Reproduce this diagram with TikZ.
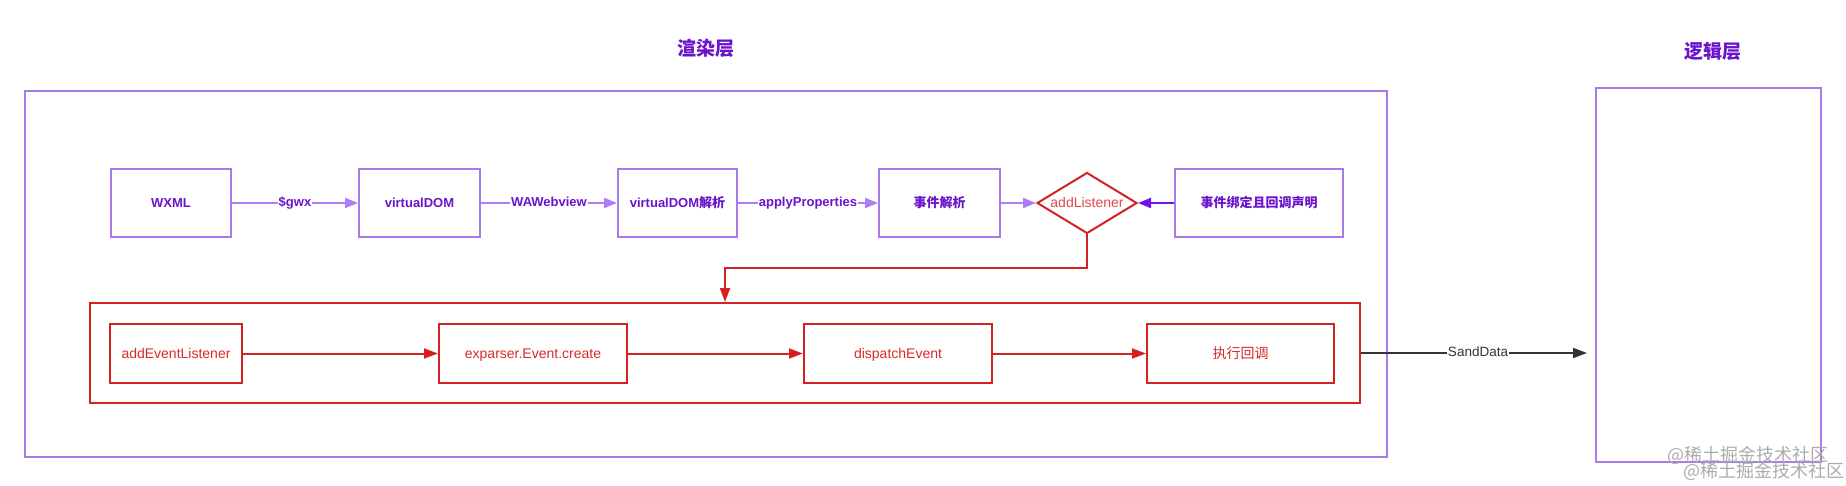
\documentclass[tikz,border=0pt]{standalone}
\usepackage{fontspec}
\setmainfont{Liberation Sans}
\newfontfamily\cjk{Noto Sans CJK SC}
\usetikzlibrary{arrows.meta,shapes.geometric,calc}
\definecolor{pline}{HTML}{A87BEA}
\definecolor{parrow}{HTML}{B07DF5}
\definecolor{pdark}{HTML}{7015E8}
\definecolor{ptext}{HTML}{6A14CC}
\definecolor{rline}{HTML}{D42222}
\definecolor{rtip}{HTML}{E81414}
\definecolor{rtext}{HTML}{D82A2A}
\definecolor{dtext}{HTML}{E04A48}
\definecolor{gline}{HTML}{333333}
\definecolor{wmark}{HTML}{ACACAC}
\tikzset{
  pbox/.style={draw=pline, line width=2pt, fill=white, inner sep=0pt, minimum height=68pt,
    text=ptext, font=\fontsize{13}{15}\selectfont\bfseries, text height=10pt, text depth=1pt},
  rbox/.style={draw=rline, line width=2pt, fill=white, inner sep=0pt, minimum height=59pt,
    text=rtext, font=\fontsize{14}{16}\selectfont, text height=10.5pt, text depth=1pt},
  parr/.style={draw=parrow, line width=2pt, -{Triangle[length=13pt,width=10pt]}},
  rarr/.style={draw=rline, line width=2pt, -{Triangle[length=14pt,width=10pt,fill=rtip]}},
  plabel/.style={fill=white, inner sep=1pt, text=ptext, font=\fontsize{13}{15}\selectfont\bfseries,
    text height=10pt, text depth=3pt},
  titlestyle/.style={text=ptext, font=\fontsize{19}{21}\selectfont\cjk\bfseries},
  wmstyle/.style={text=wmark, font=\fontsize{18}{20}\selectfont\cjk, inner sep=0pt}
}
\begin{document}
\begin{tikzpicture}[x=1pt,y=-1pt]
\useasboundingbox (0,0) rectangle (1846,486);
% containers
\node[draw=pline, line width=2pt, inner sep=0pt, minimum width=1362pt, minimum height=366pt] (render) at (706,274) {};
\node[draw=pline, line width=2pt, inner sep=0pt, minimum width=225pt, minimum height=374pt] (logic) at (1708.5,275) {};
\node[titlestyle] (t1) at (706,48) {渲染层};
\node[titlestyle] (t2) at (1713,51) {逻辑层};
% row 1
\node[pbox, minimum width=120pt] (wxml) at (171,203) {WXML};
\node[pbox, minimum width=121pt] (vdom) at (419.5,203) {virtualDOM};
\node[pbox, minimum width=119pt] (vparse) at (677.5,203) {virtualDOM{\cjk 解析}};
\node[pbox, minimum width=121pt] (eparse) at (939.5,203) {{\cjk 事件解析}};
\node[pbox, minimum width=168pt] (bind) at (1259,203) {{\cjk 事件绑定且回调声明}};
\node[shape=diamond, draw=rline, line width=2pt, fill=white, inner sep=0pt, aspect=1.64,
  minimum width=100pt, minimum height=61pt, text=dtext, font=\fontsize{14}{16}\selectfont,
  text height=10.5pt, text depth=1pt] (dia) at (1087,203) {addListener};
\draw[parr] (wxml.east) -- node[plabel]{\$gwx} (vdom.west);
\draw[parr] (vdom.east) -- node[plabel]{WAWebview} (vparse.west);
\draw[parr] (vparse.east) -- node[plabel]{applyProperties} (eparse.west);
\draw[parr] (eparse.east) -- (dia.west);
\draw[line width=2pt, draw=pdark, -{Triangle[length=13pt,width=10pt]}] (bind.west) -- (dia.east);
% row 2
\node[draw=rline, line width=2pt, inner sep=0pt, minimum width=1270pt, minimum height=100pt] (redbox) at (725,353) {};
\node[rbox, minimum width=132pt] (ael) at (176,353.5) {addEventListener};
\node[rbox, minimum width=188pt] (create) at (533,353.5) {exparser.Event.create};
\node[rbox, minimum width=188pt] (dispatch) at (898,353.5) {dispatchEvent};
\node[rbox, minimum width=187pt] (exec) at (1240.5,353.5) {{\cjk 执行回调}};
\draw[rarr] (ael.east) -- (create.west);
\draw[rarr] (create.east) -- (dispatch.west);
\draw[rarr] (dispatch.east) -- (exec.west);
\coordinate (bend) at (725,268);
\draw[rarr] (dia.south) |- (bend) -- (bend |- redbox.north);
% SandData
\draw[line width=2pt, draw=gline, -{Triangle[length=14pt,width=10pt]}, shorten >=8pt] (redbox.east) -- node[fill=white, inner sep=1pt, text=gline, font=\fontsize{13.5}{15}\selectfont, text height=10pt, text depth=3pt]{SandData} (redbox.east -| logic.west);
% watermark
\node[wmstyle] (wm1) at (1748,455) {@稀土掘金技术社区};
\node[wmstyle] (wm2) at (1764,471) {@稀土掘金技术社区};
\end{tikzpicture}
\end{document}
